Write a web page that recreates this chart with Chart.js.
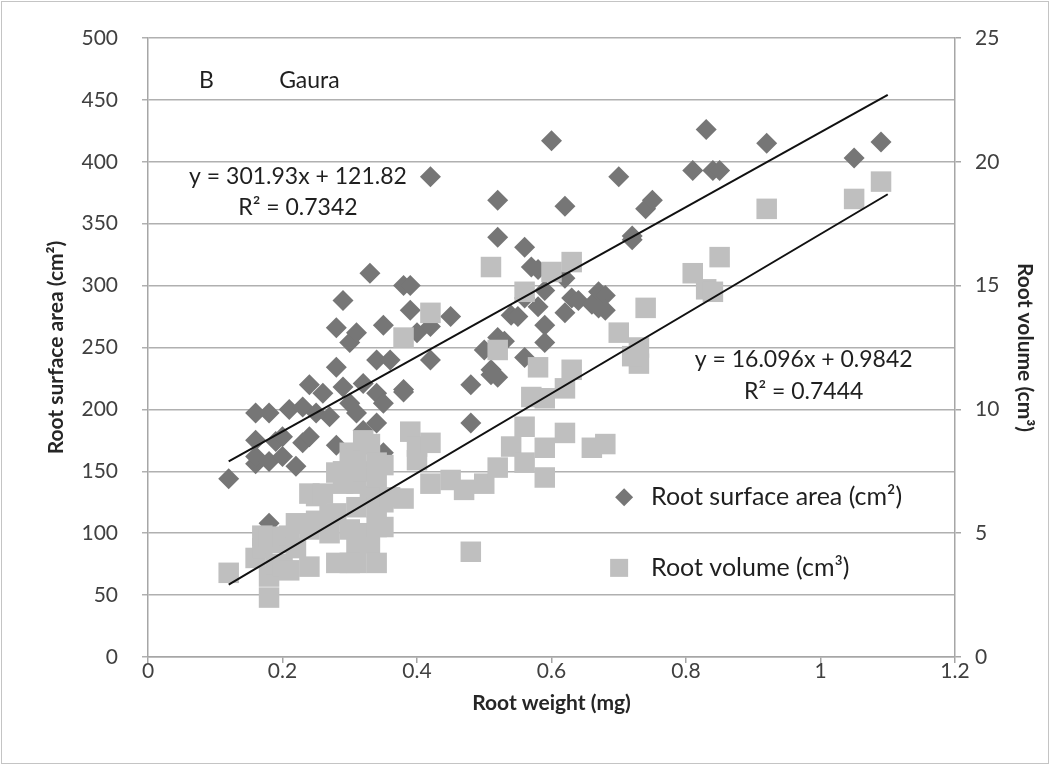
<!DOCTYPE html>
<html>
<head>
<meta charset="utf-8">
<script src="https://cdn.jsdelivr.net/npm/chart.js@4.4.1/dist/chart.umd.min.js"></script>
<style>
  body { margin: 0; background: #fff; }
  #wrap { position: relative; width: 1061px; height: 774px; }
  #frame { position: absolute; left: 1px; top: 1px; width: 1046px; height: 761px; border: 1px solid #c4c4c4; pointer-events: none; }
</style>
</head>
<body>
<div id="wrap">
  <canvas id="chart" width="1061" height="774"></canvas>
  <div id="frame"></div>
</div>
<script>
// Root weight (mg) vs root surface area (cm²)
const areaWeight = [0.12,0.16,0.16,0.16,0.16,0.18,0.18,0.18,0.19,0.20,0.20,0.21,0.22,0.23,0.23,0.24,0.24,0.25,0.26,0.27,
  0.28,0.28,0.29,0.28,0.29,0.30,0.30,0.31,0.31,0.32,0.32,0.33,0.34,0.34,0.34,0.35,0.35,0.35,0.36,0.38,
  0.38,0.38,0.39,0.39,0.40,0.42,0.42,0.42,0.45,0.48,0.48,0.50,0.51,0.51,0.52,0.52,0.52,0.52,0.53,0.54,
  0.55,0.56,0.56,0.56,0.57,0.58,0.58,0.59,0.59,0.59,0.60,0.62,0.62,0.62,0.63,0.64,0.66,0.67,0.67,0.68,
  0.68,0.70,0.72,0.72,0.74,0.75,0.81,0.83,0.84,0.85,0.92,1.05,1.09];
const areaValues = [144,156,162,175,197,197,158,108,174,162,178,200,154,202,173,220,178,197,213,194,
  234,171,288,266,218,205,254,197,262,183,221,310,240,213,189,268,205,165,240,300,
  214,216,300,280,262,388,267,240,275,220,189,248,232,228,369,339,258,226,255,276,
  275,331,290,242,315,313,283,296,268,254,417,306,278,364,290,288,285,295,282,292,
  280,388,340,337,362,369,393,426,393,393,415,403,416];

// Root weight (mg) vs root volume (cm³)
const volWeight = [0.12,0.16,0.17,0.17,0.18,0.18,0.18,0.19,0.19,0.20,0.20,0.21,0.21,0.22,0.22,0.24,0.24,0.24,0.25,0.25,
  0.26,0.27,0.27,0.28,0.28,0.28,0.29,0.29,0.30,0.30,0.30,0.30,0.31,0.31,0.31,0.31,0.31,0.32,0.32,0.32,
  0.33,0.33,0.33,0.34,0.34,0.34,0.34,0.34,0.35,0.35,0.35,0.36,0.38,0.38,0.39,0.40,0.40,0.42,0.42,0.42,
  0.45,0.47,0.48,0.50,0.51,0.52,0.52,0.54,0.56,0.56,0.56,0.57,0.58,0.59,0.59,0.59,0.60,0.62,0.62,0.63,
  0.63,0.66,0.68,0.70,0.73,0.73,0.72,0.74,0.81,0.83,0.84,0.85,0.92,1.05,1.09];
const volValues = [3.4,4.0,4.9,4.4,3.25,2.4,4.85,3.75,4.6,4.85,3.65,3.5,4.9,5.4,4.4,3.65,6.6,5.15,6.5,5.5,
  6.6,5.75,5.0,7.45,5.8,3.8,7.5,7.0,8.25,7.45,5.15,3.8,8.0,7.0,6.05,4.6,3.8,8.75,7.5,5.0,
  8.6,6.5,4.6,7.85,7.25,6.05,5.25,3.8,7.75,6.25,5.25,6.45,12.9,6.4,9.1,7.95,8.5,13.9,8.65,7.0,
  7.15,6.75,4.25,7.0,15.75,12.4,7.65,8.5,14.75,9.3,7.85,10.5,11.7,10.45,8.45,7.25,15.55,10.85,9.05,15.95,
  11.6,8.45,8.6,13.1,12.5,11.85,12.15,14.1,15.5,14.85,14.75,16.15,18.1,18.5,19.2];

// Linear trend lines, end points
const trendX = [0.12, 1.1];
const trendArea = [158, 454];
const trendVol = [2.92, 18.69];

const xTicks = [0, 0.2, 0.4, 0.6, 0.8, 1, 1.2];
const leftTicks = [0, 50, 100, 150, 200, 250, 300, 350, 400, 450, 500];
const rightTicks = [0, 5, 10, 15, 20, 25];

const eqArea = ['y = 301.93x + 121.82', 'R² = 0.7342'];
const eqVol = ['y = 16.096x + 0.9842', 'R² = 0.7444'];
const seriesNames = ['Root surface area (cm²)', 'Root volume (cm³)'];

const FONT = 'Lato, "Open Sans", sans-serif';
const TEXT = '#404040';
const DIAMOND = '#767676';
const SQUARE = '#bfbfbf';

const pts = (xs, ys) => xs.map((v, i) => ({ x: v, y: ys[i] }));
const fixTicks = list => scale => { scale.ticks = list.map(v => ({ value: v })); };

const notes = {
  id: 'notes',
  afterDatasetsDraw(chart) {
    const { ctx } = chart;
    const x = chart.scales.x, y = chart.scales.y;
    ctx.save();
    ctx.fillStyle = '#1f1f1f';
    ctx.textBaseline = 'middle';
    ctx.font = '23px ' + FONT;
    ctx.textAlign = 'left';
    ctx.fillText('B', x.getPixelForValue(0.076), y.getPixelForValue(466));
    ctx.fillText('Gaura', x.getPixelForValue(0.195), y.getPixelForValue(466));

    ctx.textAlign = 'center';
    ctx.fillText(eqArea[0], x.getPixelForValue(0.223), y.getPixelForValue(388));
    ctx.fillText(eqArea[1], x.getPixelForValue(0.223), y.getPixelForValue(363));
    ctx.fillText(eqVol[0], x.getPixelForValue(0.975), y.getPixelForValue(240));
    ctx.fillText(eqVol[1], x.getPixelForValue(0.975), y.getPixelForValue(214));

    // legend inside the plot
    const mx = x.getPixelForValue(0.708);
    const tx = x.getPixelForValue(0.748);
    const y1 = y.getPixelForValue(129);
    const y2 = y.getPixelForValue(72);
    ctx.fillStyle = DIAMOND;
    ctx.beginPath();
    ctx.moveTo(mx - 9, y1); ctx.lineTo(mx, y1 - 9); ctx.lineTo(mx + 9, y1); ctx.lineTo(mx, y1 + 9);
    ctx.closePath();
    ctx.fill();
    ctx.fillStyle = SQUARE;
    ctx.fillRect(mx - 14, y2 - 9, 18, 18);
    ctx.fillStyle = '#1f1f1f';
    ctx.font = '25px ' + FONT;
    ctx.textAlign = 'left';
    ctx.fillText(seriesNames[0], tx, y1);
    ctx.fillText(seriesNames[1], tx, y2);
    ctx.restore();
  }
};

new Chart(document.getElementById('chart'), {
  type: 'scatter',
  data: {
    datasets: [
      {
        label: 'trend area', type: 'line', data: pts(trendX, trendArea), yAxisID: 'y',
        borderColor: '#111', borderWidth: 2, pointRadius: 0, order: 0
      },
      {
        label: 'trend vol', type: 'line', data: pts(trendX, trendVol), yAxisID: 'y2',
        borderColor: '#111', borderWidth: 2, pointRadius: 0, order: 0
      },
      {
        label: seriesNames[1], data: pts(volWeight, volValues), yAxisID: 'y2',
        pointStyle: 'rect', pointRadius: 14.5, backgroundColor: SQUARE, borderWidth: 0, order: 1
      },
      {
        label: seriesNames[0], data: pts(areaWeight, areaValues), yAxisID: 'y',
        pointStyle: 'rectRot', pointRadius: 10.5, backgroundColor: DIAMOND, borderWidth: 0, order: 2
      }
    ]
  },
  options: {
    responsive: false,
    animation: false,
    layout: { padding: { top: 38, left: 0, right: 0, bottom: 0 } },
    plugins: { legend: { display: false }, tooltip: { enabled: false } },
    scales: {
      x: {
        type: 'linear', min: 0, max: 1.2,
        afterBuildTicks: fixTicks(xTicks),
        afterFit: s => { s.height = 117; },
        grid: { drawOnChartArea: false, color: '#a6a6a6', tickLength: 6, lineWidth: 1.5 },
        border: { color: '#a6a6a6', width: 1.5 },
        ticks: { color: TEXT, font: { family: FONT, size: 21 }, padding: -4, maxRotation: 0, callback: v => String(v) },
        title: { display: true, text: 'Root weight (mg)', color: '#262626', font: { family: FONT, size: 21, weight: 'bold' }, padding: { top: 0, bottom: 58 } }
      },
      y: {
        position: 'left', min: 0, max: 500,
        afterBuildTicks: fixTicks(leftTicks),
        afterFit: s => { s.width = 148; },
        grid: { color: '#b0b0b0', lineWidth: 1.5, tickLength: 6 },
        border: { color: '#a6a6a6', width: 1.5 },
        ticks: { color: TEXT, font: { family: FONT, size: 21 }, padding: 24 },
        title: { display: true, text: 'Root surface area (cm²)', color: '#262626', font: { family: FONT, size: 21, weight: 'bold' }, padding: { top: 44, bottom: 0 } }
      },
      y2: {
        position: 'right', min: 0, max: 25,
        afterBuildTicks: fixTicks(rightTicks),
        afterFit: s => { s.width = 106; },
        grid: { drawOnChartArea: false, color: '#a6a6a6', lineWidth: 1.5, tickLength: 6 },
        border: { color: '#a6a6a6', width: 1.5 },
        ticks: { color: TEXT, font: { family: FONT, size: 21 }, padding: 14 },
        title: { display: true, text: 'Root volume (cm³)', color: '#262626', font: { family: FONT, size: 21, weight: 'bold' }, padding: { top: 24, bottom: 0 } }
      }
    }
  },
  plugins: [notes]
});
</script>
</body>
</html>
